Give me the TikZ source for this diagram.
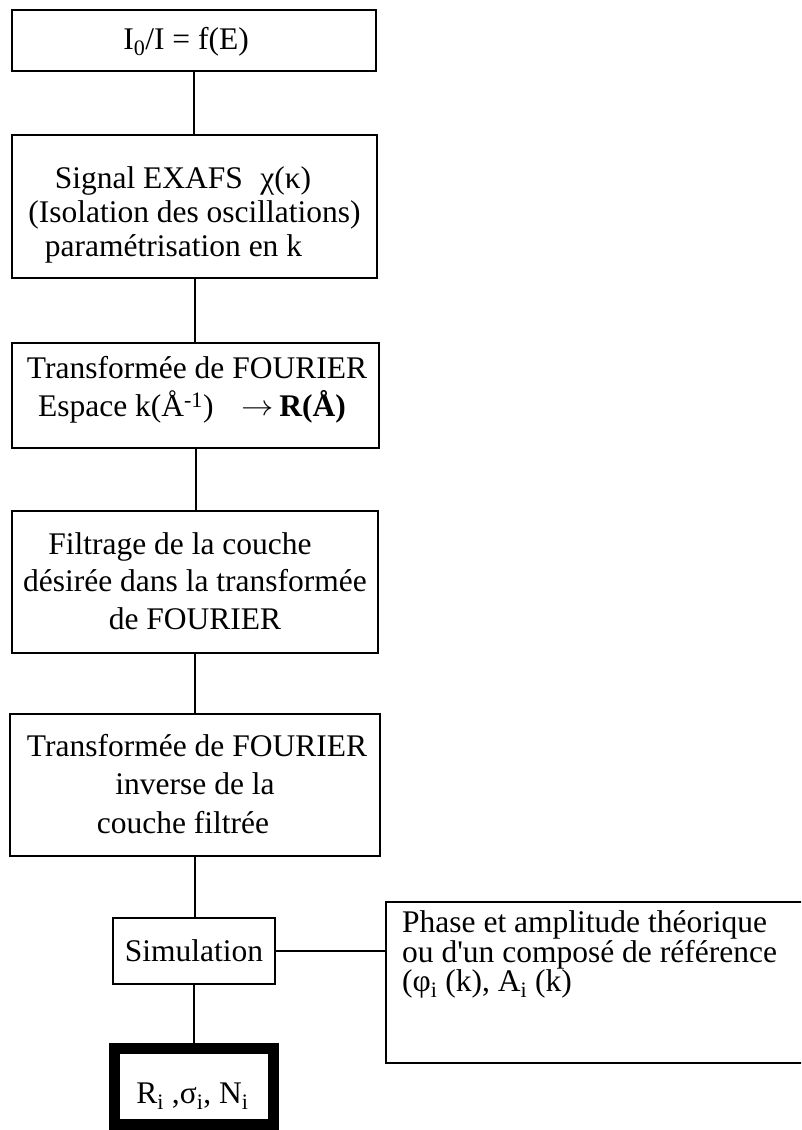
\documentclass[tikz,border=0pt]{standalone}
\usepackage{fontspec}
\setmainfont{Liberation Serif}
\begin{document}
\begin{tikzpicture}[x=1pt,y=-1pt,
  box/.style={draw, line width=1.8pt, inner sep=0pt},
  txt/.style={inner sep=0pt, align=center, font=\fontsize{31.5}{36}\selectfont},
  conn/.style={line width=2pt}]
\useasboundingbox (0,0) rectangle (801,1130);
\clip (0,0) rectangle (801,1130);
% boxes
\node[box, minimum width=364pt, minimum height=61pt]  (b1) at (194,40.5) {};
\node[box, minimum width=365pt, minimum height=143pt] (b2) at (194.5,206.5) {};
\node[box, minimum width=367pt, minimum height=105pt] (b3) at (195.5,395.5) {};
\node[box, minimum width=366pt, minimum height=142pt] (b4) at (195,582) {};
\node[box, minimum width=370pt, minimum height=142pt] (b5) at (195,785) {};
\node[box, minimum width=162pt, minimum height=66pt]  (sim) at (194,951) {};
\node[draw, line width=11pt, inner sep=0pt, minimum width=159pt, minimum height=76pt] (res) at (194,1086.5) {};
\node[box, minimum width=424pt, minimum height=161pt] (ref) at (598,982.5) {};
% texts
\node[txt] (t1) at ([xshift=-8pt,yshift=-1pt]b1.center) {I\textsubscript{0}/I = f(E)};
\node[txt, font=\fontsize{31.5}{34}\selectfont] (t2) at ([yshift=-8pt]b2.center)
  {Signal EXAFS\hspace{0.55em}χ(κ)\hspace*{23pt}\\(Isolation des oscillations)\\paramétrisation en k\hspace*{42pt}};
\node[txt, font=\fontsize{31.5}{38}\selectfont] (t3) at ([yshift=6pt]b3.center)
  {\hspace*{3pt}Transformée de FOURIER\\Espace k(Å\textsuperscript{-1})\hspace{0.9em}\raisebox{1pt}{\scalebox{1.3}[1.15]{$\rightarrow$}}\,\textbf{R(Å)}\hspace*{7pt}};
\node[txt, font=\fontsize{31.5}{37.5}\selectfont] (t4) at ([yshift=1pt]b4.center)
  {Filtrage de la couche\hspace*{30pt}\\désirée dans la transformée\\de FOURIER};
\node[txt, font=\fontsize{31.5}{38.5}\selectfont] (t5) at ([yshift=1pt]b5.center)
  {\hspace*{4pt}Transformée de FOURIER\\inverse de la\hspace*{6pt}\\couche filtrée\hspace*{24pt}};
\node[txt] (t6) at (sim.center) {Simulation};
\node[txt] (t7) at ([xshift=-1.5pt,yshift=-10pt]res.center) {R\textsubscript{i} ,σ\textsubscript{i}, N\textsubscript{i}};
\node[txt, align=left, anchor=north west, font=\fontsize{31.5}{28}\selectfont] (t8) at (402,910)
  {Phase et amplitude théorique\\ou d\textquotesingle un composé de référence\\(φ\textsubscript{i} (k), A\textsubscript{i} (k)};
% connectors
\draw[conn] (b1.south) -- (b1.south |- b2.north);
\draw[conn] (b2.south) -- (b2.south |- b3.north);
\draw[conn] (b3.south) -- (b3.south |- b4.north);
\draw[conn] (b4.south) -- (b4.south |- b5.north);
\draw[conn] (b5.south) -- (b5.south |- sim.north);
\draw[conn] (sim.south) -- (res.north);
\draw[conn] (sim.east) -- (sim.east -| ref.west);
\end{tikzpicture}
\end{document}
